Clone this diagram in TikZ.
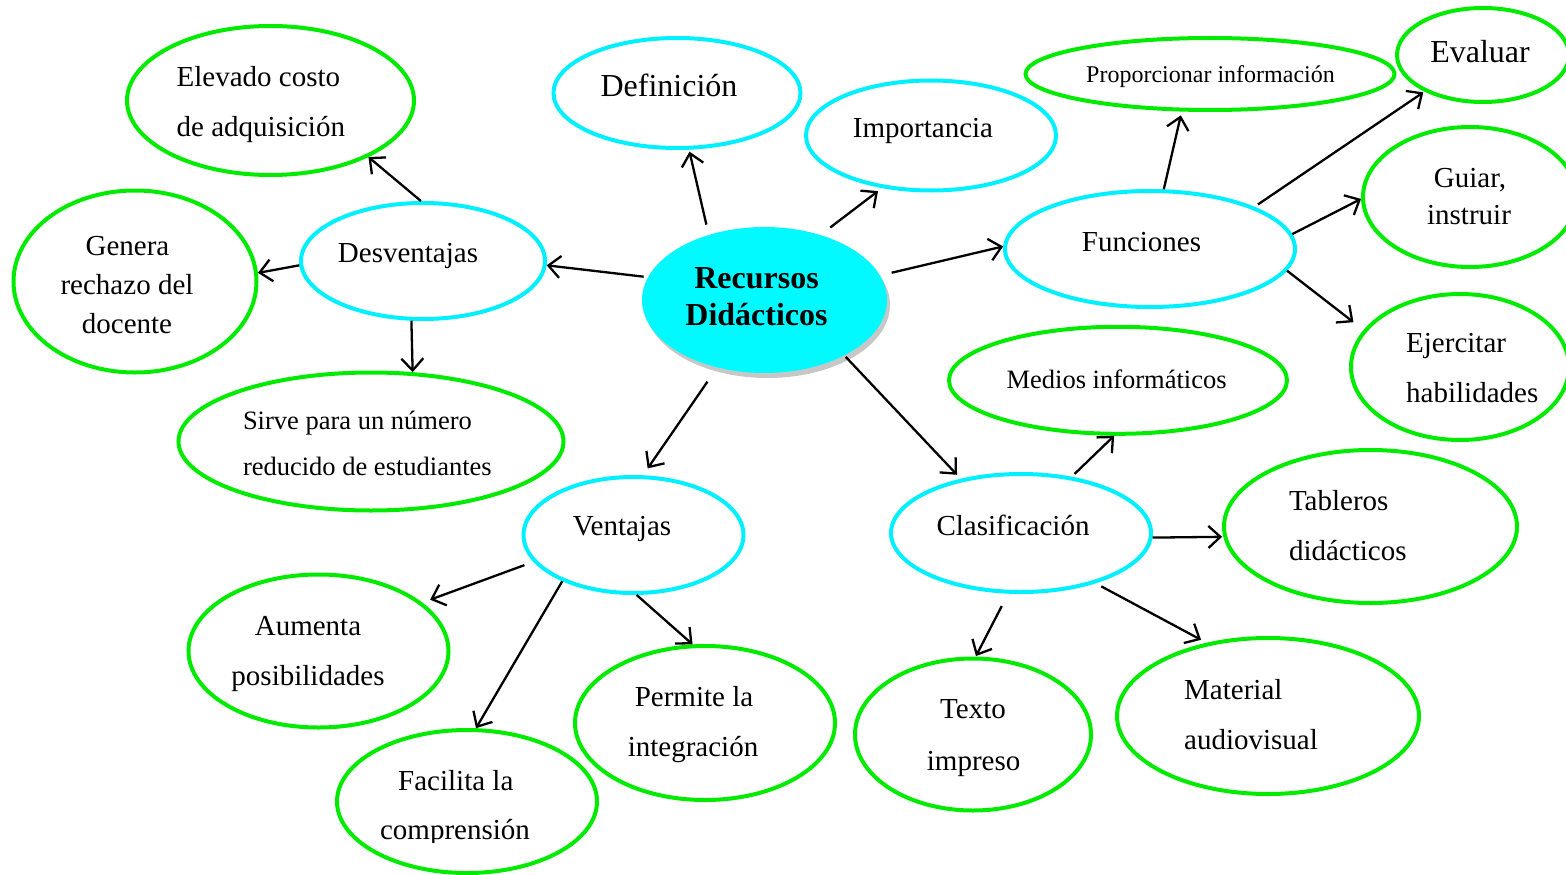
\documentclass[tikz,border=0pt]{standalone}
\usepackage{fontspec}
\setmainfont{Liberation Serif}
\usetikzlibrary{arrows.meta,shadows,shapes.geometric}
\definecolor{gr}{RGB}{0,235,0}
\definecolor{cy}{RGB}{0,240,255}
\definecolor{cyfill}{RGB}{0,250,255}
\begin{document}
\begin{tikzpicture}[x=1pt,y=-1pt,
  ell/.style={ellipse, line width=4pt, inner sep=0pt},
  gell/.style={ell, draw=gr},
  cell/.style={ell, draw=cy},
  txt/.style={inner sep=0pt, font=\fontsize{29}{34}\selectfont, anchor=base},
  ltxt/.style={txt, anchor=base west},
  bigtxt/.style={txt, font=\fontsize{32}{38}\selectfont},
  smtxt/.style={txt, font=\fontsize{26.5}{32}\selectfont},
  arr/.style={line width=2.3pt, -{Straight Barb[length=12pt,width=22pt]}}]
\useasboundingbox (0,0) rectangle (1566,875);

% ellipses
\node[gell, minimum width=287pt, minimum height=149pt] (elev) at (270.5,100.5) {};
\node[cell, minimum width=247pt, minimum height=110pt] (def) at (677,93) {};
\node[cell, minimum width=250pt, minimum height=110pt] (imp) at (931,135.5) {};
\node[gell, minimum width=369pt, minimum height=72pt] (prop) at (1210,74) {};
\node[gell, minimum width=172pt, minimum height=94pt] (eval) at (1483,55) {};
\node[gell, minimum width=214pt, minimum height=140pt] (guiar) at (1470,197) {};
\node[cell, minimum width=290pt, minimum height=116pt] (fun) at (1150,249) {};
\node[gell, minimum width=218pt, minimum height=146pt] (ejer) at (1460,367) {};
\node[ell, fill=cyfill, draw=none, minimum width=245pt, minimum height=146pt,
      drop shadow={shadow xshift=3pt, shadow yshift=-5pt, fill=black, opacity=0.22}] (rec) at (764.5,300) {};
\node[cell, minimum width=244pt, minimum height=116pt] (desv) at (423,261) {};
\node[gell, minimum width=243pt, minimum height=182pt] (gen) at (135,281.5) {};
\node[gell, minimum width=385pt, minimum height=138pt] (sirve) at (371,441.5) {};
\node[gell, minimum width=338pt, minimum height=107pt] (medios) at (1118,380.3) {};
\node[cell, minimum width=260pt, minimum height=118pt] (clas) at (1021,533) {};
\node[gell, minimum width=293pt, minimum height=153pt] (tabl) at (1370.5,526.5) {};
\node[cell, minimum width=220pt, minimum height=116pt] (vent) at (633.5,535) {};
\node[gell, minimum width=260pt, minimum height=153pt] (aum) at (318.5,651) {};
\node[gell, minimum width=260pt, minimum height=154pt] (perm) at (705,723) {};
\node[gell, minimum width=260pt, minimum height=143pt] (fac) at (467,801.5) {};
\node[gell, minimum width=236pt, minimum height=152pt] (texto) at (973,734.5) {};
\node[gell, minimum width=302pt, minimum height=156pt] (mat) at (1268,716) {};

% texts
\node[ltxt] (elevA) at (176.5,86.7) {Elevado costo};
\node[ltxt] (elevB) at (176.5,136.7) {de adquisición};
\node[bigtxt] (defT) at (669,96) {Definición};
\node[txt] (impT) at (923,137.7) {Importancia};
\node[txt, font=\fontsize{24}{29}\selectfont] (propT) at (1210.5,82) {Proporcionar información};
\node[bigtxt] (evalT) at (1480,63) {Evaluar};
\node[txt] (guiarA) at (1470,187) {Guiar,};
\node[txt] (guiarB) at (1469,224.5) {instruir};
\node[txt] (funT) at (1141.5,251) {Funciones};
\node[ltxt] (ejerA) at (1406,352.7) {Ejercitar};
\node[ltxt] (ejerB) at (1406,402.7) {habilidades};
\node[txt, font=\fontsize{32}{38}\selectfont\bfseries] (recA) at (756.5,288) {Recursos};
\node[txt, font=\fontsize{32}{38}\selectfont\bfseries] (recB) at (756.5,325) {Didácticos};
\node[txt] (desvT) at (408,262) {Desventajas};
\node[txt] (genA) at (127.5,255) {Genera};
\node[txt] (genB) at (127,294) {rechazo del};
\node[txt] (genC) at (127,333) {docente};
\node[smtxt, anchor=base west] (sirveA) at (242.8,429) {Sirve para un número};
\node[smtxt, anchor=base west] (sirveB) at (242.8,475) {reducido de estudiantes};
\node[smtxt] (mediosT) at (1116.6,388.3) {Medios informáticos};
\node[txt] (clasT) at (1013,535) {Clasificación};
\node[ltxt] (tablA) at (1288.8,510.7) {Tableros};
\node[ltxt] (tablB) at (1288.8,560.7) {didácticos};
\node[txt] (ventT) at (622,535.7) {Ventajas};
\node[txt] (aumA) at (308,635) {Aumenta};
\node[txt] (aumB) at (308,685) {posibilidades};
\node[txt] (permA) at (694,706.7) {Permite la};
\node[txt] (permB) at (693,756.7) {integración};
\node[txt] (facA) at (455.8,790) {Facilita la};
\begin{scope}
  \clip (0,0) rectangle (1566,842);
  \node[txt] (facB) at (455,839.3) {comprensión};
\end{scope}
\node[txt] (textoA) at (973,718.3) {Texto};
\node[txt] (textoB) at (973.6,770) {impreso};
\node[ltxt] (matA) at (1184,699.3) {Material};
\node[ltxt] (matB) at (1184,749.3) {audiovisual};

% connectors
\draw[arr, shorten <=8.7pt, shorten >=2pt] (rec.130.3) -- (def.-78.4);
\draw[arr, shorten <=10pt, shorten >=5pt] (rec.49.2) -- (imp.227.4);
\draw[arr, shorten <=10pt] (rec.12) -- (fun.179.6);
\draw[arr, shorten <=2.4pt] (rec.169.7) -- (desv.-2.4);
\draw[arr, shorten <=15.3pt, shorten >=8.3pt] (rec.235.3) -- (vent.81.2);
\draw[arr, shorten >=5.4pt] (rec.325.5) -- (clas.138.6);
\draw[arr] (desv.92.5) -- (elev.330.3);
\draw[arr] (desv.182) -- (gen.4.4);
\draw[arr] (desv.259.5) -- (sirve.59);
\draw[arr, shorten >=3.9pt] (fun.77.9) -- (prop.233);
\draw[arr, shorten <=4.2pt, shorten >=1.4pt] (fun.22.4) -- (eval.212.8);
\draw[arr] (fun.6.6) -- (guiar.181.6);
\draw[arr, shorten >=12.7pt] (fun.351.6) -- (ejer.159.8);
\draw[arr, shorten <=3.9pt] (clas.48.1) -- (medios.266.4);
\draw[arr, shorten >=1.2pt] (clas.-2.3) -- (tabl.184.6);
\draw[arr, shorten <=13.9pt, shorten >=0.5pt] (clas.258.2) -- (texto.88.6);
\draw[arr, shorten <=6.4pt, shorten >=6.2pt] (clas.326) -- (mat.130.3);
\draw[arr, shorten <=9.5pt, shorten >=8.3pt] (vent.195.9) -- (aum.25.6);
\draw[arr] (vent.213.1) -- (fac.83.6);
\draw[arr] (vent.273.7) -- (perm.99.3);
\end{tikzpicture}
\end{document}
